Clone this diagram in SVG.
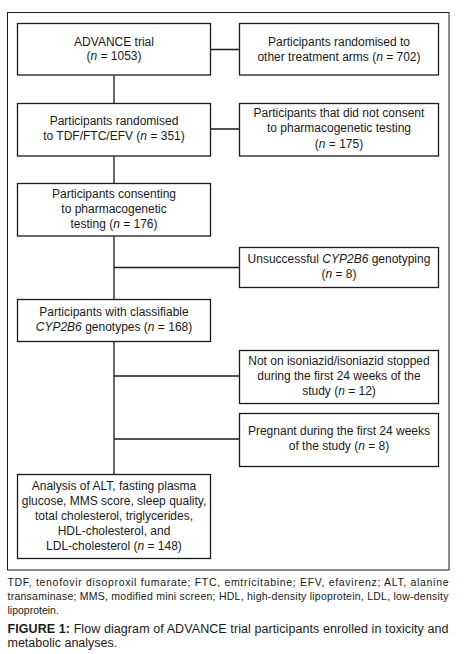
<svg xmlns="http://www.w3.org/2000/svg" width="466" height="654" viewBox="0 0 466 654">
<style>
.box{fill:#fff;stroke:#1a1a1a;stroke-width:1.3}
.t{font-family:"Liberation Sans",Arial,sans-serif;font-size:12px;fill:#1a1a1a;text-anchor:middle}
.i{font-style:italic}
.fn{font-family:"Liberation Sans",Arial,sans-serif;font-size:10.5px;fill:#1a1a1a}
.cap{font-family:"Liberation Sans",Arial,sans-serif;font-size:12.5px;fill:#1a1a1a}
.ln{stroke:#1a1a1a;stroke-width:1.3;fill:none}
</style>
<rect width="466" height="654" fill="#fff"/>
<rect x="7.5" y="12.5" width="441.5" height="557.5" fill="none" stroke="#1a1a1a" stroke-width="1"/>
<g id="connectors">
<path class="ln" d="M210.5 49.5H239.5M114 75.5V103.5M210.5 129H239.5M114 156V183.5M114 236V299.5M114 267.5H239.5M114 341.5V474.5M114 376H239.5M114 439H239.5"/>
</g>
<g id="n1"><rect class="box" x="17.5" y="23.5" width="193" height="51.5"/>
<text class="t" x="114" y="45.5">ADVANCE trial</text>
<text class="t" x="114" y="60">(<tspan class="i">n</tspan> = 1053)</text></g>
<g id="n2"><rect class="box" x="239.5" y="23.5" width="199" height="51.5"/>
<text class="t" x="339" y="45.5">Participants randomised to</text>
<text class="t" x="339" y="60.5">other treatment arms (<tspan class="i">n</tspan> = 702)</text></g>
<g id="n3"><rect class="box" x="17.5" y="103.5" width="193" height="52.5"/>
<text class="t" x="114" y="124.5">Participants randomised</text>
<text class="t" x="114" y="140">to TDF/FTC/EFV (<tspan class="i">n</tspan> = 351)</text></g>
<g id="n4"><rect class="box" x="239.5" y="103.5" width="199" height="52.5"/>
<text class="t" x="339" y="117">Participants that did not consent</text>
<text class="t" x="339" y="132">to pharmacogenetic testing</text>
<text class="t" x="339" y="147.5">(<tspan class="i">n</tspan> = 175)</text></g>
<g id="n5"><rect class="box" x="17.5" y="183.5" width="193" height="52.5"/>
<text class="t" x="114" y="198">Participants consenting</text>
<text class="t" x="114" y="213">to pharmacogenetic</text>
<text class="t" x="114" y="228">testing (<tspan class="i">n</tspan> = 176)</text></g>
<g id="n6"><rect class="box" x="239.5" y="247.5" width="199" height="40"/>
<text class="t" x="339" y="263">Unsuccessful <tspan class="i">CYP2B6</tspan> genotyping</text>
<text class="t" x="339" y="278">(<tspan class="i">n</tspan> = 8)</text></g>
<g id="n7"><rect class="box" x="17.5" y="299.5" width="193" height="42"/>
<text class="t" x="114" y="316">Participants with classifiable</text>
<text class="t" x="114" y="331"><tspan class="i">CYP2B6</tspan> genotypes (<tspan class="i">n</tspan> = 168)</text></g>
<g id="n8"><rect class="box" x="239.5" y="350.5" width="199" height="53"/>
<text class="t" x="339" y="364.5">Not on isoniazid/isoniazid stopped</text>
<text class="t" x="339" y="379.5">during the first 24 weeks of the</text>
<text class="t" x="339" y="395">study (<tspan class="i">n</tspan> = 12)</text></g>
<g id="n9"><rect class="box" x="239.5" y="413.5" width="199" height="53"/>
<text class="t" x="339" y="434.5">Pregnant during the first 24 weeks</text>
<text class="t" x="339" y="450">of the study (<tspan class="i">n</tspan> = 8)</text></g>
<g id="n10"><rect class="box" x="17.5" y="474.5" width="193" height="84"/>
<text class="t" x="114" y="489.5">Analysis of ALT, fasting plasma</text>
<text class="t" x="114" y="504.5">glucose, MMS score, sleep quality,</text>
<text class="t" x="114" y="519.5">total cholesterol, triglycerides,</text>
<text class="t" x="114" y="534.5">HDL-cholesterol, and</text>
<text class="t" x="114" y="549.5">LDL-cholesterol (<tspan class="i">n</tspan> = 148)</text></g>
<g id="notes">
<text class="fn" x="7.5" y="586" textLength="441" lengthAdjust="spacing">TDF, tenofovir disoproxil fumarate; FTC, emtricitabine; EFV, efavirenz; ALT, alanine</text>
<text class="fn" x="7.5" y="600" textLength="441" lengthAdjust="spacing">transaminase; MMS, modified mini screen; HDL, high-density lipoprotein, LDL, low-density</text>
<text class="fn" x="7.5" y="613.5">lipoprotein.</text>
<text class="cap" x="7.5" y="632.5" textLength="441" lengthAdjust="spacing"><tspan font-weight="bold">FIGURE 1:</tspan> Flow diagram of ADVANCE trial participants enrolled in toxicity and</text>
<text class="cap" x="7.5" y="647">metabolic analyses.</text>
</g>
</svg>
